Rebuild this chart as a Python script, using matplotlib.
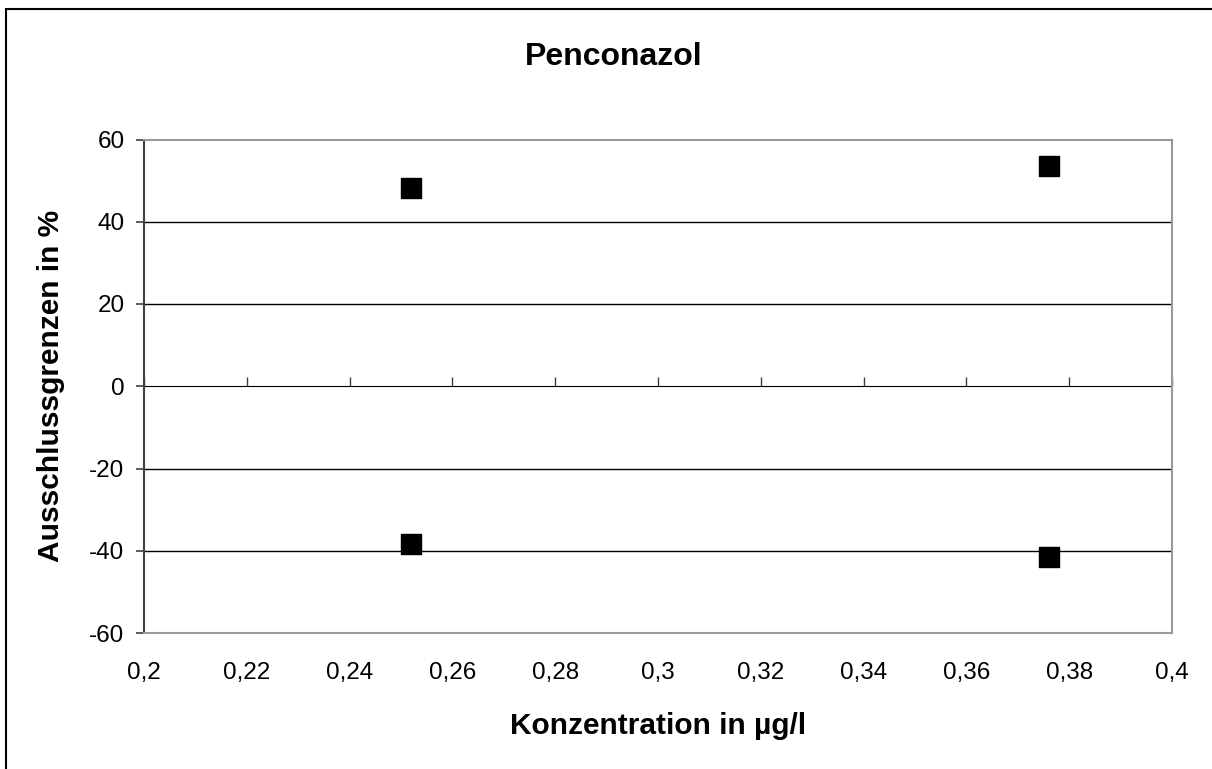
import matplotlib
matplotlib.use("Agg")
import matplotlib.pyplot as plt
from matplotlib.patches import Rectangle

plt.rcParams['font.family'] = ['Liberation Sans', 'DejaVu Sans']

# data
konz = [0.252, 0.376, 0.252, 0.376]
grenze = [48.2, 53.5, -38.4, -41.5]

xticks = [0.2, 0.22, 0.24, 0.26, 0.28, 0.3, 0.32, 0.34, 0.36, 0.38, 0.4]
xtick_labels = ['0,2', '0,22', '0,24', '0,26', '0,28', '0,3', '0,32', '0,34', '0,36', '0,38', '0,4']
yticks = [-60, -40, -20, 0, 20, 40, 60]
ytick_labels = ['-60', '-40', '-20', '0', '20', '40', '60']

W, H = 1212, 769
fig = plt.figure(figsize=(W / 100, H / 100), dpi=100)
# chart area border (only top and left edges fall inside the image)
fig.patches.append(Rectangle((6 / W, -0.05), 1.2, 1 - 9 / H + 0.05, transform=fig.transFigure,
                             fill=False, edgecolor='black', linewidth=1.5))
ax = fig.add_axes([144 / W, 1 - 633 / H, 1028 / W, 493.5 / H])

ax.scatter(konz, grenze, marker='s', s=14.5**2, color='black', zorder=3)

ax.set_xlim(0.2, 0.4)
ax.set_ylim(-60, 60)
ax.set_xticks(xticks)
ax.set_xticklabels(xtick_labels)
ax.set_yticks(yticks)
ax.set_yticklabels(ytick_labels)
ax.tick_params(axis='x', length=0, labelsize=17.5, pad=21)
ax.tick_params(axis='y', direction='out', length=6, width=1.2, color='#404040', labelsize=17.5, pad=8)

for y in yticks:
    if y not in (-60, 0, 60):
        ax.axhline(y, color='black', linewidth=1, zorder=1)

for side in ['top', 'right', 'bottom']:
    ax.spines[side].set_color('#999999')
    ax.spines[side].set_linewidth(1.5)
ax.spines['left'].set_color('#404040')
ax.spines['left'].set_linewidth(1.5)

# x axis crossing at zero, ticks below the line
zero = ax.secondary_xaxis(0.5)
zero.set_xticks(xticks)
zero.set_xticklabels([])
zero.tick_params(direction='out', length=6.5, width=1, color='#404040')
zero.spines['bottom'].set_color('black')
zero.spines['bottom'].set_linewidth(1.2)

fig.text(614 / W, 1 - 65 / H, 'Penconazol', fontsize=23, fontweight='bold',
         ha='center', va='baseline')
ax.set_xlabel('Konzentration in µg/l', fontsize=21.5, fontweight='bold')
ax.xaxis.set_label_coords(0.5, -(712 - 633) / 493.5)
ax.set_ylabel('Ausschlussgrenzen in %', fontsize=21.5, fontweight='bold')
ax.yaxis.set_label_coords((65 - 144) / 1028, 0.5)

fig.savefig('out.png', dpi=100)
